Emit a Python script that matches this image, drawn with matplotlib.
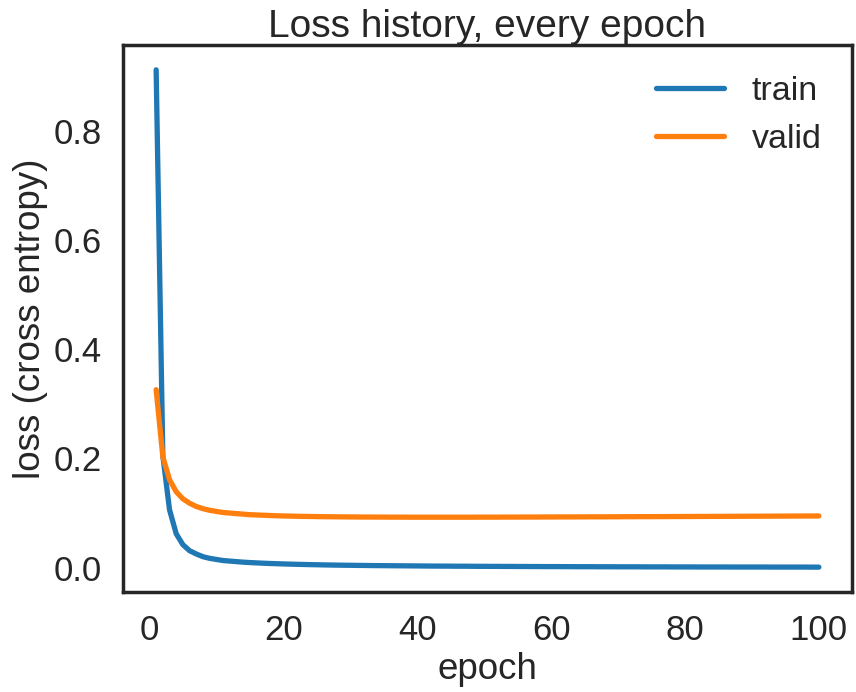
import numpy as np
import matplotlib
matplotlib.use("Agg")
import matplotlib.pyplot as plt
import seaborn as sns

epochs = list(range(1, 101))

train_loss = [
    0.912, 0.205, 0.106, 0.062, 0.042, 0.031, 0.025, 0.020, 0.017, 0.015,
    0.013, 0.012, 0.011, 0.010, 0.0093, 0.0087, 0.0081, 0.0076, 0.0072, 0.0068,
    0.0064, 0.0061, 0.0058, 0.0055, 0.0053, 0.0050, 0.0048, 0.0046, 0.0044, 0.0043,
    0.0041, 0.0040, 0.0038, 0.0037, 0.0036, 0.0035, 0.0034, 0.0033, 0.0032, 0.0031,
    0.0030, 0.0029, 0.0028, 0.0028, 0.0027, 0.0026, 0.0026, 0.0025, 0.0024, 0.0024,
    0.0023, 0.0023, 0.0022, 0.0022, 0.0021, 0.0021, 0.0020, 0.0020, 0.0019, 0.0019,
    0.0019, 0.0018, 0.0018, 0.0017, 0.0017, 0.0017, 0.0016, 0.0016, 0.0016, 0.0015,
    0.0015, 0.0015, 0.0015, 0.0014, 0.0014, 0.0014, 0.0014, 0.0013, 0.0013, 0.0013,
    0.0013, 0.0012, 0.0012, 0.0012, 0.0012, 0.0012, 0.0011, 0.0011, 0.0011, 0.0011,
    0.0011, 0.0011, 0.0010, 0.0010, 0.0010, 0.0010, 0.0010, 0.0010, 0.0009, 0.0009,
]

valid_loss = [
    0.326, 0.203, 0.161, 0.139, 0.126, 0.118, 0.112, 0.108, 0.105, 0.103,
    0.101, 0.100, 0.099, 0.098, 0.097, 0.0965, 0.096, 0.0955, 0.095, 0.0947,
    0.0944, 0.0941, 0.0939, 0.0937, 0.0935, 0.0933, 0.0932, 0.0931, 0.0930, 0.0929,
    0.0928, 0.0927, 0.0927, 0.0926, 0.0926, 0.0925, 0.0925, 0.0925, 0.0924, 0.0924,
    0.0924, 0.0924, 0.0924, 0.0924, 0.0924, 0.0924, 0.0924, 0.0924, 0.0925, 0.0925,
    0.0925, 0.0925, 0.0926, 0.0926, 0.0926, 0.0927, 0.0927, 0.0927, 0.0928, 0.0928,
    0.0929, 0.0929, 0.0929, 0.0930, 0.0930, 0.0931, 0.0931, 0.0931, 0.0932, 0.0932,
    0.0933, 0.0933, 0.0934, 0.0934, 0.0934, 0.0935, 0.0935, 0.0936, 0.0936, 0.0937,
    0.0937, 0.0938, 0.0938, 0.0939, 0.0939, 0.0940, 0.0940, 0.0941, 0.0941, 0.0942,
    0.0942, 0.0943, 0.0943, 0.0944, 0.0944, 0.0945, 0.0945, 0.0946, 0.0946, 0.0947,
]

sns.set_style("white")
sns.set_context("poster")
plt.rcParams['font.family'] = ['Liberation Sans', 'DejaVu Sans']

fig = plt.figure(figsize=(8.56, 6.92), dpi=100)
ax = fig.add_axes([0.1437, 0.1445, 0.8516, 0.7905])

ax.plot(epochs, train_loss, color='#1f77b4', lw=3.8, label='train')
ax.plot(epochs, valid_loss, color='#ff7f0e', lw=3.8, label='valid')

ax.tick_params(labelsize=25)
ax.set_xlabel('epoch', fontsize=26.5)
ax.set_ylabel('loss (cross entropy)', fontsize=26.5)
ax.set_title('Loss history, every epoch', fontsize=28)
ax.legend(loc='upper right', frameon=False, fontsize=24.5)

fig.savefig('out.png', dpi=100)
